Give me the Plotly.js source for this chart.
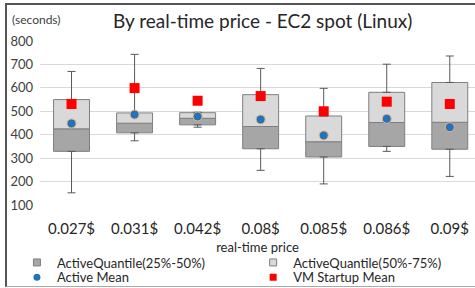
<!DOCTYPE html>
<html><head><meta charset="utf-8">
<script src="https://cdn.plot.ly/plotly-3.0.1.min.js"></script>
<style>
html,body{margin:0;padding:0;background:#fff;overflow:hidden;}
#chart{width:475px;height:288px;position:absolute;left:0;top:0;}
#frame{position:absolute;left:5px;top:3px;width:480px;height:281px;border-top:2px solid #555;border-left:2px solid #555;border-bottom:1px solid #aaa;pointer-events:none;}
</style></head>
<body>
<div id="chart"></div>
<div id="frame"></div>
<script>
const categories = ['0.027$','0.031$','0.042$','0.08$','0.085$','0.086$','0.09$'];
const whiskerLow  = [152, 374, 432, 248, 190, 329, 222];
const q1          = [329, 408, 442, 340, 305, 350, 338];
const median      = [425, 449, 470, 435, 370, 452, 453];
const q3          = [550, 493, 494, 571, 480, 581, 623];
const whiskerHigh = [670, 743, 496, 683, 598, 701, 736];
const activeMean  = [448, 486, 478, 465, 397, 468, 432];
const vmStartupMean = [531, 599, 545, 565, 500, 541, 531];
const seriesNames = ['ActiveQuantile(25%-50%)','ActiveQuantile(50%-75%)','Active Mean','VM Startup Mean'];

const darkFill = '#a6a6a6', lightFill = '#d9d9d9', edge = '#7f7f7f';
const fnt = 'Lato, "Open Sans", sans-serif';
const bw = 0.57;

const traces = [
  {type:'scatter', mode:'markers', x:categories, y:q3, marker:{size:1,opacity:0}, showlegend:false, hoverinfo:'skip',
   error_y:{type:'data', symmetric:false, array:whiskerHigh.map((v,i)=>v-q3[i]), arrayminus:q3.map(()=>0), color:'#595959', thickness:1, width:4}},
  {type:'scatter', mode:'markers', x:categories, y:q1, marker:{size:1,opacity:0}, showlegend:false, hoverinfo:'skip',
   error_y:{type:'data', symmetric:false, array:q1.map(()=>0), arrayminus:q1.map((v,i)=>v-whiskerLow[i]), color:'#595959', thickness:1, width:4}},
  {type:'bar', x:categories, base:q1, y:median.map((v,i)=>v-q1[i]), width:bw, showlegend:false,
   marker:{color:darkFill, line:{color:edge, width:1}}},
  {type:'bar', x:categories, base:median, y:q3.map((v,i)=>v-median[i]), width:bw, showlegend:false,
   marker:{color:lightFill, line:{color:edge, width:1}}},
  {type:'scatter', mode:'markers', x:categories, y:vmStartupMean, name:seriesNames[3], showlegend:false,
   marker:{symbol:'square', size:10, color:'#ff0000'}},
  {type:'scatter', mode:'markers', x:categories, y:activeMean, name:seriesNames[2], showlegend:false,
   marker:{symbol:'circle', size:9, color:'#1f74bd', line:{color:'#f0b27a', width:1}}},
  // legend entries
  {type:'scatter', mode:'markers', x:[null], y:[null], name:seriesNames[0], legend:'legend', marker:{symbol:'square', size:7, color:darkFill, line:{color:edge,width:1}}},
  {type:'scatter', mode:'markers', x:[null], y:[null], name:seriesNames[1], legend:'legend2', marker:{symbol:'square', size:7, color:lightFill, line:{color:edge,width:1}}},
  {type:'scatter', mode:'markers', x:[null], y:[null], name:seriesNames[2], legend:'legend3', marker:{symbol:'circle', size:7, color:'#1f74bd'}},
  {type:'scatter', mode:'markers', x:[null], y:[null], name:seriesNames[3], legend:'legend4', marker:{symbol:'square', size:7, color:'#ff0000'}}
];

const legendBase = {orientation:'v', yanchor:'top', xanchor:'left', itemwidth:30, tracegroupgap:0,
                    font:{size:13, color:'#262626'}, bgcolor:'rgba(0,0,0,0)', traceorder:'normal'};

const layout = {
  width:475, height:288,
  margin:{l:40, r:0, t:41, b:83, autoexpand:false},
  paper_bgcolor:'#fff', plot_bgcolor:'#fff',
  barmode:'overlay',
  font:{family:fnt, color:'#404040', size:12},
  title:{text:'By real-time price - EC2 spot (Linux)', font:{family:fnt, size:19, color:'#262626'},
         x:0.553, xanchor:'center', y:0.925, yanchor:'middle', xref:'container', yref:'container'},
  xaxis:{type:'category', range:[-0.5, 6.4], showgrid:false, showline:false, zeroline:false, ticks:'',
         tickfont:{size:15, color:'#262626'}, ticklabelstandoff:13,
         title:{text:'real-time price', font:{size:13, color:'#262626'}, standoff:6}},
  yaxis:{range:[100, 800], dtick:100, showgrid:true, gridcolor:'#d9d9d9', gridwidth:1, zeroline:false, showline:false,
         tickfont:{size:13, color:'#404040'}, ticklabelstandoff:6},
  legend:Object.assign({}, legendBase, {x:-0.053, y:-0.259}),
  legend2:Object.assign({}, legendBase, {x:0.49, y:-0.259}),
  legend3:Object.assign({}, legendBase, {x:-0.053, y:-0.35}),
  legend4:Object.assign({}, legendBase, {x:0.49, y:-0.35}),
  annotations:[{text:'(seconds)', xref:'paper', yref:'paper', x:-0.069, xanchor:'left', y:1.134, yanchor:'middle',
                showarrow:false, font:{size:12, color:'#404040'}}],
  showlegend:true
};

Plotly.newPlot('chart', traces, layout, {displayModeBar:false, staticPlot:true});
</script>
</body></html>
